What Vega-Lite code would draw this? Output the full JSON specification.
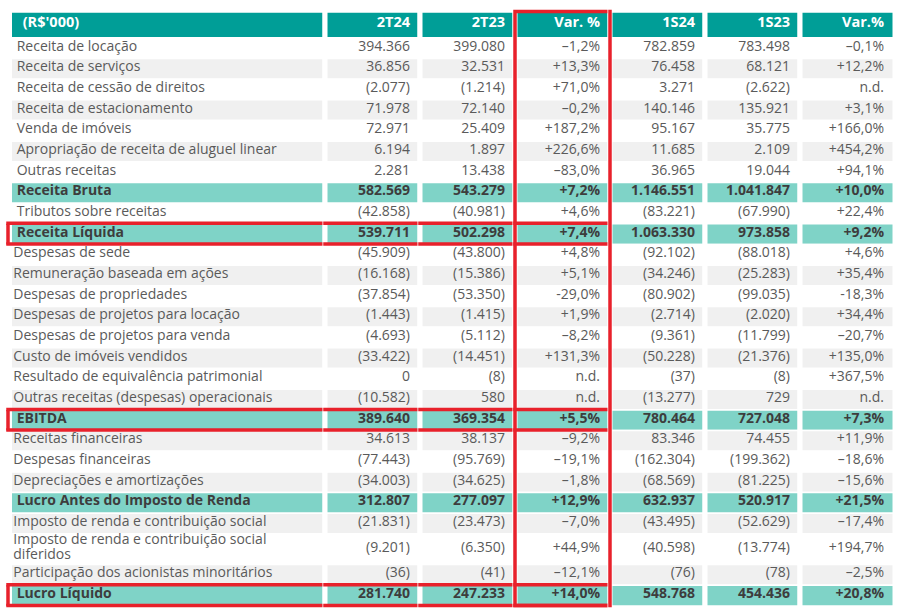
{
  "$schema": "https://vega.github.io/schema/vega-lite/v6.json",
  "autosize": {"type": "pad"},
  "padding": {"left": 4, "top": 0, "right": 0, "bottom": 0},
  "background": "white",
  "spacing": 0,
  "bounds": "flush",
  "config": {"view": {"stroke": null}, "text": {"font": "Open Sans", "fontSize": 14, "dy": -1}},
  "data": {"values": [
    {"i": 0, "rotulo": "(R$'000)", "t2T24": "2T24", "t2T23": "2T23", "var2T": "Var. %", "t1S24": "1S24", "t1S23": "1S23", "var1S": "Var.%", "tipo": "cabecalho", "destaque": false},
    {"i": 1, "rotulo": "Receita de locação", "t2T24": "394.366", "t2T23": "399.080", "var2T": "–1,2%", "t1S24": "782.859", "t1S23": "783.498", "var1S": "–0,1%", "tipo": "linha", "destaque": false},
    {"i": 2, "rotulo": "Receita de serviços", "t2T24": "36.856", "t2T23": "32.531", "var2T": "+13,3%", "t1S24": "76.458", "t1S23": "68.121", "var1S": "+12,2%", "tipo": "linha", "destaque": false},
    {"i": 3, "rotulo": "Receita de cessão de direitos", "t2T24": "(2.077)", "t2T23": "(1.214)", "var2T": "+71,0%", "t1S24": "3.271", "t1S23": "(2.622)", "var1S": "n.d.", "tipo": "linha", "destaque": false},
    {"i": 4, "rotulo": "Receita de estacionamento", "t2T24": "71.978", "t2T23": "72.140", "var2T": "–0,2%", "t1S24": "140.146", "t1S23": "135.921", "var1S": "+3,1%", "tipo": "linha", "destaque": false},
    {"i": 5, "rotulo": "Venda de imóveis", "t2T24": "72.971", "t2T23": "25.409", "var2T": "+187,2%", "t1S24": "95.167", "t1S23": "35.775", "var1S": "+166,0%", "tipo": "linha", "destaque": false},
    {"i": 6, "rotulo": "Apropriação de receita de aluguel linear", "t2T24": "6.194", "t2T23": "1.897", "var2T": "+226,6%", "t1S24": "11.685", "t1S23": "2.109", "var1S": "+454,2%", "tipo": "linha", "destaque": false},
    {"i": 7, "rotulo": "Outras receitas", "t2T24": "2.281", "t2T23": "13.438", "var2T": "–83,0%", "t1S24": "36.965", "t1S23": "19.044", "var1S": "+94,1%", "tipo": "linha", "destaque": false},
    {"i": 8, "rotulo": "Receita Bruta", "t2T24": "582.569", "t2T23": "543.279", "var2T": "+7,2%", "t1S24": "1.146.551", "t1S23": "1.041.847", "var1S": "+10,0%", "tipo": "total", "destaque": false},
    {"i": 9, "rotulo": "Tributos sobre receitas", "t2T24": "(42.858)", "t2T23": "(40.981)", "var2T": "+4,6%", "t1S24": "(83.221)", "t1S23": "(67.990)", "var1S": "+22,4%", "tipo": "linha", "destaque": false},
    {"i": 10, "rotulo": "Receita Líquida", "t2T24": "539.711", "t2T23": "502.298", "var2T": "+7,4%", "t1S24": "1.063.330", "t1S23": "973.858", "var1S": "+9,2%", "tipo": "total", "destaque": true},
    {"i": 11, "rotulo": "Despesas de sede", "t2T24": "(45.909)", "t2T23": "(43.800)", "var2T": "+4,8%", "t1S24": "(92.102)", "t1S23": "(88.018)", "var1S": "+4,6%", "tipo": "linha", "destaque": false},
    {"i": 12, "rotulo": "Remuneração baseada em ações", "t2T24": "(16.168)", "t2T23": "(15.386)", "var2T": "+5,1%", "t1S24": "(34.246)", "t1S23": "(25.283)", "var1S": "+35,4%", "tipo": "linha", "destaque": false},
    {"i": 13, "rotulo": "Despesas de propriedades", "t2T24": "(37.854)", "t2T23": "(53.350)", "var2T": "-29,0%", "t1S24": "(80.902)", "t1S23": "(99.035)", "var1S": "-18,3%", "tipo": "linha", "destaque": false},
    {"i": 14, "rotulo": "Despesas de projetos para locação", "t2T24": "(1.443)", "t2T23": "(1.415)", "var2T": "+1,9%", "t1S24": "(2.714)", "t1S23": "(2.020)", "var1S": "+34,4%", "tipo": "linha", "destaque": false},
    {"i": 15, "rotulo": "Despesas de projetos para venda", "t2T24": "(4.693)", "t2T23": "(5.112)", "var2T": "–8,2%", "t1S24": "(9.361)", "t1S23": "(11.799)", "var1S": "–20,7%", "tipo": "linha", "destaque": false},
    {"i": 16, "rotulo": "Custo de imóveis vendidos", "t2T24": "(33.422)", "t2T23": "(14.451)", "var2T": "+131,3%", "t1S24": "(50.228)", "t1S23": "(21.376)", "var1S": "+135,0%", "tipo": "linha", "destaque": false},
    {"i": 17, "rotulo": "Resultado de equivalência patrimonial", "t2T24": "0", "t2T23": "(8)", "var2T": "n.d.", "t1S24": "(37)", "t1S23": "(8)", "var1S": "+367,5%", "tipo": "linha", "destaque": false},
    {"i": 18, "rotulo": "Outras receitas (despesas) operacionais", "t2T24": "(10.582)", "t2T23": "580", "var2T": "n.d.", "t1S24": "(13.277)", "t1S23": "729", "var1S": "n.d.", "tipo": "linha", "destaque": false},
    {"i": 19, "rotulo": "EBITDA", "t2T24": "389.640", "t2T23": "369.354", "var2T": "+5,5%", "t1S24": "780.464", "t1S23": "727.048", "var1S": "+7,3%", "tipo": "total", "destaque": true},
    {"i": 20, "rotulo": "Receitas financeiras", "t2T24": "34.613", "t2T23": "38.137", "var2T": "–9,2%", "t1S24": "83.346", "t1S23": "74.455", "var1S": "+11,9%", "tipo": "linha", "destaque": false},
    {"i": 21, "rotulo": "Despesas financeiras", "t2T24": "(77.443)", "t2T23": "(95.769)", "var2T": "–19,1%", "t1S24": "(162.304)", "t1S23": "(199.362)", "var1S": "–18,6%", "tipo": "linha", "destaque": false},
    {"i": 22, "rotulo": "Depreciações e amortizações", "t2T24": "(34.003)", "t2T23": "(34.625)", "var2T": "–1,8%", "t1S24": "(68.569)", "t1S23": "(81.225)", "var1S": "–15,6%", "tipo": "linha", "destaque": false},
    {"i": 23, "rotulo": "Lucro Antes do Imposto de Renda", "t2T24": "312.807", "t2T23": "277.097", "var2T": "+12,9%", "t1S24": "632.937", "t1S23": "520.917", "var1S": "+21,5%", "tipo": "total", "destaque": false},
    {"i": 24, "rotulo": "Imposto de renda e contribuição social", "t2T24": "(21.831)", "t2T23": "(23.473)", "var2T": "–7,0%", "t1S24": "(43.495)", "t1S23": "(52.629)", "var1S": "–17,4%", "tipo": "linha", "destaque": false},
    {"i": 25, "rotulo": ["Imposto de renda e contribuição social", "diferidos"], "t2T24": "(9.201)", "t2T23": "(6.350)", "var2T": "+44,9%", "t1S24": "(40.598)", "t1S23": "(13.774)", "var1S": "+194,7%", "tipo": "linha", "destaque": false},
    {"i": 26, "rotulo": "Participação dos acionistas minoritários", "t2T24": "(36)", "t2T23": "(41)", "var2T": "–12,1%", "t1S24": "(76)", "t1S23": "(78)", "var1S": "–2,5%", "tipo": "linha", "destaque": false},
    {"i": 27, "rotulo": "Lucro Líquido", "t2T24": "281.740", "t2T23": "247.233", "var2T": "+14,0%", "t1S24": "548.768", "t1S23": "454.436", "var1S": "+20,8%", "tipo": "total", "destaque": true}
  ]},
  "hconcat": [
    {
      "width": 317, "height": 609,
      "layer": [
        {"mark": {"type": "rect", "stroke": "white", "strokeWidth": 1.5, "binSpacing": 0},
         "encoding": {"y": {"field": "i", "type": "quantitative", "bin": {"step": 1, "extent": [0, 28]}, "scale": {"domain": [0, 1, 25, 26, 28], "range": [7.5, 33.3, 529.4, 560, 601.6], "zero": false, "nice": false}, "axis": null},
           "fill": {"condition": [{"test": "datum.tipo == 'cabecalho'", "value": "#009e97"}, {"test": "datum.tipo == 'total'", "value": "#7fd3c7"}, {"test": "datum.i % 2 == 0", "value": "#f0f0f0"}], "value": "#ffffff"}}},
        {"data": {"values": [{}]}, "mark": {"type": "rule", "stroke": "white", "strokeWidth": 8}, "encoding": {"x": {"value": 0}, "y": {"value": 0}, "y2": {"value": "height"}}},
        {"data": {"values": [{}]}, "mark": {"type": "rule", "stroke": "white", "strokeWidth": 5}, "encoding": {"x": {"value": "width"}, "y": {"value": 0}, "y2": {"value": "height"}}},
        {"transform": [{"filter": "datum.tipo == 'cabecalho'"}], "mark": {"type": "text", "align": "left", "baseline": "middle", "dx": 14.7, "fontWeight": "bold", "fontSize": 14.5, "fill": "white"},
         "encoding": {"x": {"value": 0}, "y": {"field": "i", "type": "quantitative", "bin": {"step": 1, "extent": [0, 28]}, "scale": {"domain": [0, 1, 25, 26, 28], "range": [7.5, 33.3, 529.4, 560, 601.6], "zero": false, "nice": false}, "axis": null}, "text": {"field": "rotulo", "type": "nominal"}}},
        {"transform": [{"filter": "datum.tipo == 'total'"}], "mark": {"type": "text", "align": "left", "baseline": "middle", "dx": 8.7, "fontWeight": "bold", "fill": "#3d3d3d"},
         "encoding": {"x": {"value": 0}, "y": {"field": "i", "type": "quantitative", "bin": {"step": 1, "extent": [0, 28]}, "scale": {"domain": [0, 1, 25, 26, 28], "range": [7.5, 33.3, 529.4, 560, 601.6], "zero": false, "nice": false}, "axis": null}, "text": {"field": "rotulo", "type": "nominal"}}},
        {"transform": [{"filter": "datum.tipo == 'linha' && datum.i <= 10"}], "mark": {"type": "text", "align": "left", "baseline": "middle", "dx": 8.7, "fill": "#5a5a5a"},
         "encoding": {"x": {"value": 0}, "y": {"field": "i", "type": "quantitative", "bin": {"step": 1, "extent": [0, 28]}, "scale": {"domain": [0, 1, 25, 26, 28], "range": [7.5, 33.3, 529.4, 560, 601.6], "zero": false, "nice": false}, "axis": null}, "text": {"field": "rotulo", "type": "nominal"}}},
        {"transform": [{"filter": "datum.tipo == 'linha' && datum.i > 10 && !isArray(datum.rotulo)"}], "mark": {"type": "text", "align": "left", "baseline": "middle", "dx": 5.3, "fill": "#5a5a5a"},
         "encoding": {"x": {"value": 0}, "y": {"field": "i", "type": "quantitative", "bin": {"step": 1, "extent": [0, 28]}, "scale": {"domain": [0, 1, 25, 26, 28], "range": [7.5, 33.3, 529.4, 560, 601.6], "zero": false, "nice": false}, "axis": null}, "text": {"field": "rotulo", "type": "nominal"}}},
        {"transform": [{"filter": "isArray(datum.rotulo)"}], "mark": {"type": "text", "align": "left", "baseline": "middle", "dx": 5.3, "dy": -8.5, "lineHeight": 15, "fill": "#5a5a5a"},
         "encoding": {"x": {"value": 0}, "y": {"field": "i", "type": "quantitative", "bin": {"step": 1, "extent": [0, 28]}, "scale": {"domain": [0, 1, 25, 26, 28], "range": [7.5, 33.3, 529.4, 560, 601.6], "zero": false, "nice": false}, "axis": null}, "text": {"field": "rotulo", "type": "nominal"}}},
        {"transform": [{"filter": "datum.destaque"}], "mark": {"type": "rule", "stroke": "#e8212b", "strokeWidth": 3.5, "strokeCap": "square"},
         "encoding": {"x": {"value": 0}, "x2": {"value": "width"}, "y": {"field": "i", "type": "quantitative", "bin": {"step": 1, "extent": [0, 28]}, "bandPosition": 0, "scale": {"domain": [0, 1, 25, 26, 28], "range": [7.5, 33.3, 529.4, 560, 601.6], "zero": false, "nice": false}, "axis": null}}},
        {"transform": [{"filter": "datum.destaque"}], "mark": {"type": "rule", "stroke": "#e8212b", "strokeWidth": 3.5, "strokeCap": "square"},
         "encoding": {"x": {"value": 0}, "x2": {"value": "width"}, "y": {"field": "i", "type": "quantitative", "bin": {"step": 1, "extent": [0, 28]}, "bandPosition": 1, "scale": {"domain": [0, 1, 25, 26, 28], "range": [7.5, 33.3, 529.4, 560, 601.6], "zero": false, "nice": false}, "axis": null}}},
        {"transform": [{"filter": "datum.destaque"}], "mark": {"type": "rect", "fillOpacity": 0, "stroke": "#e8212b", "strokeWidth": 3.5, "binSpacing": 0},
         "encoding": {"x": {"value": 0}, "x2": {"value": 0}, "y": {"field": "i", "type": "quantitative", "bin": {"step": 1, "extent": [0, 28]}, "scale": {"domain": [0, 1, 25, 26, 28], "range": [7.5, 33.3, 529.4, 560, 601.6], "zero": false, "nice": false}, "axis": null}}}
      ]
    },
    {
      "width": 95, "height": 609,
      "layer": [
        {"mark": {"type": "rect", "stroke": "white", "strokeWidth": 1.5, "binSpacing": 0},
         "encoding": {"y": {"field": "i", "type": "quantitative", "bin": {"step": 1, "extent": [0, 28]}, "scale": {"domain": [0, 1, 25, 26, 28], "range": [7.5, 33.3, 529.4, 560, 601.6], "zero": false, "nice": false}, "axis": null},
           "fill": {"condition": [{"test": "datum.tipo == 'cabecalho'", "value": "#009e97"}, {"test": "datum.tipo == 'total'", "value": "#7fd3c7"}, {"test": "datum.i % 2 == 0", "value": "#f0f0f0"}], "value": "#ffffff"}}},
        {"data": {"values": [{}]}, "mark": {"type": "rule", "stroke": "white", "strokeWidth": 5}, "encoding": {"x": {"value": 0}, "y": {"value": 0}, "y2": {"value": "height"}}},
        {"data": {"values": [{}]}, "mark": {"type": "rule", "stroke": "white", "strokeWidth": 5}, "encoding": {"x": {"value": "width"}, "y": {"value": 0}, "y2": {"value": "height"}}},
        {"transform": [{"filter": "datum.tipo == 'cabecalho'"}], "mark": {"type": "text", "align": "right", "baseline": "middle", "dx": -10, "fontWeight": "bold", "fontSize": 14.5, "fill": "white"},
         "encoding": {"x": {"value": "width"}, "y": {"field": "i", "type": "quantitative", "bin": {"step": 1, "extent": [0, 28]}, "scale": {"domain": [0, 1, 25, 26, 28], "range": [7.5, 33.3, 529.4, 560, 601.6], "zero": false, "nice": false}, "axis": null}, "text": {"field": "t2T24", "type": "nominal"}}},
        {"transform": [{"filter": "datum.tipo == 'total'"}], "mark": {"type": "text", "align": "right", "baseline": "middle", "dx": -10, "fontWeight": "bold", "fill": "#3d3d3d"},
         "encoding": {"x": {"value": "width"}, "y": {"field": "i", "type": "quantitative", "bin": {"step": 1, "extent": [0, 28]}, "scale": {"domain": [0, 1, 25, 26, 28], "range": [7.5, 33.3, 529.4, 560, 601.6], "zero": false, "nice": false}, "axis": null}, "text": {"field": "t2T24", "type": "nominal"}}},
        {"transform": [{"filter": "datum.tipo == 'linha'"}], "mark": {"type": "text", "align": "right", "baseline": "middle", "dx": -10, "fill": "#5a5a5a"},
         "encoding": {"x": {"value": "width"}, "y": {"field": "i", "type": "quantitative", "bin": {"step": 1, "extent": [0, 28]}, "scale": {"domain": [0, 1, 25, 26, 28], "range": [7.5, 33.3, 529.4, 560, 601.6], "zero": false, "nice": false}, "axis": null}, "text": {"field": "t2T24", "type": "nominal"}}},
        {"transform": [{"filter": "datum.destaque"}], "mark": {"type": "rule", "stroke": "#e8212b", "strokeWidth": 3.5, "strokeCap": "square"},
         "encoding": {"x": {"value": 0}, "x2": {"value": "width"}, "y": {"field": "i", "type": "quantitative", "bin": {"step": 1, "extent": [0, 28]}, "bandPosition": 0, "scale": {"domain": [0, 1, 25, 26, 28], "range": [7.5, 33.3, 529.4, 560, 601.6], "zero": false, "nice": false}, "axis": null}}},
        {"transform": [{"filter": "datum.destaque"}], "mark": {"type": "rule", "stroke": "#e8212b", "strokeWidth": 3.5, "strokeCap": "square"},
         "encoding": {"x": {"value": 0}, "x2": {"value": "width"}, "y": {"field": "i", "type": "quantitative", "bin": {"step": 1, "extent": [0, 28]}, "bandPosition": 1, "scale": {"domain": [0, 1, 25, 26, 28], "range": [7.5, 33.3, 529.4, 560, 601.6], "zero": false, "nice": false}, "axis": null}}}
      ]
    },
    {
      "width": 95, "height": 609,
      "layer": [
        {"mark": {"type": "rect", "stroke": "white", "strokeWidth": 1.5, "binSpacing": 0},
         "encoding": {"y": {"field": "i", "type": "quantitative", "bin": {"step": 1, "extent": [0, 28]}, "scale": {"domain": [0, 1, 25, 26, 28], "range": [7.5, 33.3, 529.4, 560, 601.6], "zero": false, "nice": false}, "axis": null},
           "fill": {"condition": [{"test": "datum.tipo == 'cabecalho'", "value": "#009e97"}, {"test": "datum.tipo == 'total'", "value": "#7fd3c7"}, {"test": "datum.i % 2 == 0", "value": "#f0f0f0"}], "value": "#ffffff"}}},
        {"data": {"values": [{}]}, "mark": {"type": "rule", "stroke": "white", "strokeWidth": 5}, "encoding": {"x": {"value": 0}, "y": {"value": 0}, "y2": {"value": "height"}}},
        {"data": {"values": [{}]}, "mark": {"type": "rule", "stroke": "white", "strokeWidth": 5}, "encoding": {"x": {"value": "width"}, "y": {"value": 0}, "y2": {"value": "height"}}},
        {"transform": [{"filter": "datum.tipo == 'cabecalho'"}], "mark": {"type": "text", "align": "right", "baseline": "middle", "dx": -10, "fontWeight": "bold", "fontSize": 14.5, "fill": "white"},
         "encoding": {"x": {"value": "width"}, "y": {"field": "i", "type": "quantitative", "bin": {"step": 1, "extent": [0, 28]}, "scale": {"domain": [0, 1, 25, 26, 28], "range": [7.5, 33.3, 529.4, 560, 601.6], "zero": false, "nice": false}, "axis": null}, "text": {"field": "t2T23", "type": "nominal"}}},
        {"transform": [{"filter": "datum.tipo == 'total'"}], "mark": {"type": "text", "align": "right", "baseline": "middle", "dx": -10, "fontWeight": "bold", "fill": "#3d3d3d"},
         "encoding": {"x": {"value": "width"}, "y": {"field": "i", "type": "quantitative", "bin": {"step": 1, "extent": [0, 28]}, "scale": {"domain": [0, 1, 25, 26, 28], "range": [7.5, 33.3, 529.4, 560, 601.6], "zero": false, "nice": false}, "axis": null}, "text": {"field": "t2T23", "type": "nominal"}}},
        {"transform": [{"filter": "datum.tipo == 'linha'"}], "mark": {"type": "text", "align": "right", "baseline": "middle", "dx": -10, "fill": "#5a5a5a"},
         "encoding": {"x": {"value": "width"}, "y": {"field": "i", "type": "quantitative", "bin": {"step": 1, "extent": [0, 28]}, "scale": {"domain": [0, 1, 25, 26, 28], "range": [7.5, 33.3, 529.4, 560, 601.6], "zero": false, "nice": false}, "axis": null}, "text": {"field": "t2T23", "type": "nominal"}}},
        {"transform": [{"filter": "datum.destaque"}], "mark": {"type": "rule", "stroke": "#e8212b", "strokeWidth": 3.5, "strokeCap": "square"},
         "encoding": {"x": {"value": 0}, "x2": {"value": "width"}, "y": {"field": "i", "type": "quantitative", "bin": {"step": 1, "extent": [0, 28]}, "bandPosition": 0, "scale": {"domain": [0, 1, 25, 26, 28], "range": [7.5, 33.3, 529.4, 560, 601.6], "zero": false, "nice": false}, "axis": null}}},
        {"transform": [{"filter": "datum.destaque"}], "mark": {"type": "rule", "stroke": "#e8212b", "strokeWidth": 3.5, "strokeCap": "square"},
         "encoding": {"x": {"value": 0}, "x2": {"value": "width"}, "y": {"field": "i", "type": "quantitative", "bin": {"step": 1, "extent": [0, 28]}, "bandPosition": 1, "scale": {"domain": [0, 1, 25, 26, 28], "range": [7.5, 33.3, 529.4, 560, 601.6], "zero": false, "nice": false}, "axis": null}}}
      ]
    },
    {
      "width": 95, "height": 609,
      "layer": [
        {"mark": {"type": "rect", "stroke": "white", "strokeWidth": 1.5, "binSpacing": 0},
         "encoding": {"y": {"field": "i", "type": "quantitative", "bin": {"step": 1, "extent": [0, 28]}, "scale": {"domain": [0, 1, 25, 26, 28], "range": [7.5, 33.3, 529.4, 560, 601.6], "zero": false, "nice": false}, "axis": null},
           "fill": {"condition": [{"test": "datum.tipo == 'cabecalho'", "value": "#009e97"}, {"test": "datum.tipo == 'total'", "value": "#7fd3c7"}, {"test": "datum.i % 2 == 0", "value": "#f0f0f0"}], "value": "#ffffff"}}},
        {"data": {"values": [{}]}, "mark": {"type": "rule", "stroke": "white", "strokeWidth": 5}, "encoding": {"x": {"value": 0}, "y": {"value": 0}, "y2": {"value": "height"}}},
        {"data": {"values": [{}]}, "mark": {"type": "rule", "stroke": "white", "strokeWidth": 5}, "encoding": {"x": {"value": "width"}, "y": {"value": 0}, "y2": {"value": "height"}}},
        {"transform": [{"filter": "datum.tipo == 'cabecalho'"}], "mark": {"type": "text", "align": "right", "baseline": "middle", "dx": -10, "fontWeight": "bold", "fontSize": 14.5, "fill": "white"},
         "encoding": {"x": {"value": "width"}, "y": {"field": "i", "type": "quantitative", "bin": {"step": 1, "extent": [0, 28]}, "scale": {"domain": [0, 1, 25, 26, 28], "range": [7.5, 33.3, 529.4, 560, 601.6], "zero": false, "nice": false}, "axis": null}, "text": {"field": "var2T", "type": "nominal"}}},
        {"transform": [{"filter": "datum.tipo == 'total'"}], "mark": {"type": "text", "align": "right", "baseline": "middle", "dx": -10, "fontWeight": "bold", "fill": "#3d3d3d"},
         "encoding": {"x": {"value": "width"}, "y": {"field": "i", "type": "quantitative", "bin": {"step": 1, "extent": [0, 28]}, "scale": {"domain": [0, 1, 25, 26, 28], "range": [7.5, 33.3, 529.4, 560, 601.6], "zero": false, "nice": false}, "axis": null}, "text": {"field": "var2T", "type": "nominal"}}},
        {"transform": [{"filter": "datum.tipo == 'linha'"}], "mark": {"type": "text", "align": "right", "baseline": "middle", "dx": -10, "fill": "#5a5a5a"},
         "encoding": {"x": {"value": "width"}, "y": {"field": "i", "type": "quantitative", "bin": {"step": 1, "extent": [0, 28]}, "scale": {"domain": [0, 1, 25, 26, 28], "range": [7.5, 33.3, 529.4, 560, 601.6], "zero": false, "nice": false}, "axis": null}, "text": {"field": "var2T", "type": "nominal"}}},
        {"transform": [{"filter": "datum.destaque"}], "mark": {"type": "rule", "stroke": "#e8212b", "strokeWidth": 3.5, "strokeCap": "square"},
         "encoding": {"x": {"value": 0}, "x2": {"value": "width"}, "y": {"field": "i", "type": "quantitative", "bin": {"step": 1, "extent": [0, 28]}, "bandPosition": 0, "scale": {"domain": [0, 1, 25, 26, 28], "range": [7.5, 33.3, 529.4, 560, 601.6], "zero": false, "nice": false}, "axis": null}}},
        {"transform": [{"filter": "datum.destaque"}], "mark": {"type": "rule", "stroke": "#e8212b", "strokeWidth": 3.5, "strokeCap": "square"},
         "encoding": {"x": {"value": 0}, "x2": {"value": "width"}, "y": {"field": "i", "type": "quantitative", "bin": {"step": 1, "extent": [0, 28]}, "bandPosition": 1, "scale": {"domain": [0, 1, 25, 26, 28], "range": [7.5, 33.3, 529.4, 560, 601.6], "zero": false, "nice": false}, "axis": null}}},
        {"data": {"values": [{}]}, "mark": {"type": "rect", "fillOpacity": 0, "stroke": "#e8212b", "strokeWidth": 3.5},
         "encoding": {"y": {"datum": 0, "type": "quantitative"}, "y2": {"datum": 28}}}
      ]
    },
    {
      "width": 95, "height": 609,
      "layer": [
        {"mark": {"type": "rect", "stroke": "white", "strokeWidth": 1.5, "binSpacing": 0},
         "encoding": {"y": {"field": "i", "type": "quantitative", "bin": {"step": 1, "extent": [0, 28]}, "scale": {"domain": [0, 1, 25, 26, 28], "range": [7.5, 33.3, 529.4, 560, 601.6], "zero": false, "nice": false}, "axis": null},
           "fill": {"condition": [{"test": "datum.tipo == 'cabecalho'", "value": "#009e97"}, {"test": "datum.tipo == 'total'", "value": "#7fd3c7"}, {"test": "datum.i % 2 == 0", "value": "#f0f0f0"}], "value": "#ffffff"}}},
        {"data": {"values": [{}]}, "mark": {"type": "rule", "stroke": "white", "strokeWidth": 5}, "encoding": {"x": {"value": 0}, "y": {"value": 0}, "y2": {"value": "height"}}},
        {"data": {"values": [{}]}, "mark": {"type": "rule", "stroke": "white", "strokeWidth": 5}, "encoding": {"x": {"value": "width"}, "y": {"value": 0}, "y2": {"value": "height"}}},
        {"transform": [{"filter": "datum.tipo == 'cabecalho'"}], "mark": {"type": "text", "align": "right", "baseline": "middle", "dx": -10, "fontWeight": "bold", "fontSize": 14.5, "fill": "white"},
         "encoding": {"x": {"value": "width"}, "y": {"field": "i", "type": "quantitative", "bin": {"step": 1, "extent": [0, 28]}, "scale": {"domain": [0, 1, 25, 26, 28], "range": [7.5, 33.3, 529.4, 560, 601.6], "zero": false, "nice": false}, "axis": null}, "text": {"field": "t1S24", "type": "nominal"}}},
        {"transform": [{"filter": "datum.tipo == 'total'"}], "mark": {"type": "text", "align": "right", "baseline": "middle", "dx": -10, "fontWeight": "bold", "fill": "#3d3d3d"},
         "encoding": {"x": {"value": "width"}, "y": {"field": "i", "type": "quantitative", "bin": {"step": 1, "extent": [0, 28]}, "scale": {"domain": [0, 1, 25, 26, 28], "range": [7.5, 33.3, 529.4, 560, 601.6], "zero": false, "nice": false}, "axis": null}, "text": {"field": "t1S24", "type": "nominal"}}},
        {"transform": [{"filter": "datum.tipo == 'linha'"}], "mark": {"type": "text", "align": "right", "baseline": "middle", "dx": -10, "fill": "#5a5a5a"},
         "encoding": {"x": {"value": "width"}, "y": {"field": "i", "type": "quantitative", "bin": {"step": 1, "extent": [0, 28]}, "scale": {"domain": [0, 1, 25, 26, 28], "range": [7.5, 33.3, 529.4, 560, 601.6], "zero": false, "nice": false}, "axis": null}, "text": {"field": "t1S24", "type": "nominal"}}},
        {"data": {"values": [{}]}, "mark": {"type": "rule", "stroke": "#e8212b", "strokeWidth": 3.5, "strokeCap": "square"},
         "encoding": {"x": {"value": 0}, "y": {"datum": 0, "type": "quantitative"}, "y2": {"datum": 28}}}
      ]
    },
    {
      "width": 95, "height": 609,
      "layer": [
        {"mark": {"type": "rect", "stroke": "white", "strokeWidth": 1.5, "binSpacing": 0},
         "encoding": {"y": {"field": "i", "type": "quantitative", "bin": {"step": 1, "extent": [0, 28]}, "scale": {"domain": [0, 1, 25, 26, 28], "range": [7.5, 33.3, 529.4, 560, 601.6], "zero": false, "nice": false}, "axis": null},
           "fill": {"condition": [{"test": "datum.tipo == 'cabecalho'", "value": "#009e97"}, {"test": "datum.tipo == 'total'", "value": "#7fd3c7"}, {"test": "datum.i % 2 == 0", "value": "#f0f0f0"}], "value": "#ffffff"}}},
        {"data": {"values": [{}]}, "mark": {"type": "rule", "stroke": "white", "strokeWidth": 5}, "encoding": {"x": {"value": 0}, "y": {"value": 0}, "y2": {"value": "height"}}},
        {"data": {"values": [{}]}, "mark": {"type": "rule", "stroke": "white", "strokeWidth": 5}, "encoding": {"x": {"value": "width"}, "y": {"value": 0}, "y2": {"value": "height"}}},
        {"transform": [{"filter": "datum.tipo == 'cabecalho'"}], "mark": {"type": "text", "align": "right", "baseline": "middle", "dx": -10, "fontWeight": "bold", "fontSize": 14.5, "fill": "white"},
         "encoding": {"x": {"value": "width"}, "y": {"field": "i", "type": "quantitative", "bin": {"step": 1, "extent": [0, 28]}, "scale": {"domain": [0, 1, 25, 26, 28], "range": [7.5, 33.3, 529.4, 560, 601.6], "zero": false, "nice": false}, "axis": null}, "text": {"field": "t1S23", "type": "nominal"}}},
        {"transform": [{"filter": "datum.tipo == 'total'"}], "mark": {"type": "text", "align": "right", "baseline": "middle", "dx": -10, "fontWeight": "bold", "fill": "#3d3d3d"},
         "encoding": {"x": {"value": "width"}, "y": {"field": "i", "type": "quantitative", "bin": {"step": 1, "extent": [0, 28]}, "scale": {"domain": [0, 1, 25, 26, 28], "range": [7.5, 33.3, 529.4, 560, 601.6], "zero": false, "nice": false}, "axis": null}, "text": {"field": "t1S23", "type": "nominal"}}},
        {"transform": [{"filter": "datum.tipo == 'linha'"}], "mark": {"type": "text", "align": "right", "baseline": "middle", "dx": -10, "fill": "#5a5a5a"},
         "encoding": {"x": {"value": "width"}, "y": {"field": "i", "type": "quantitative", "bin": {"step": 1, "extent": [0, 28]}, "scale": {"domain": [0, 1, 25, 26, 28], "range": [7.5, 33.3, 529.4, 560, 601.6], "zero": false, "nice": false}, "axis": null}, "text": {"field": "t1S23", "type": "nominal"}}}
      ]
    },
    {
      "width": 95, "height": 609,
      "layer": [
        {"mark": {"type": "rect", "stroke": "white", "strokeWidth": 1.5, "binSpacing": 0},
         "encoding": {"y": {"field": "i", "type": "quantitative", "bin": {"step": 1, "extent": [0, 28]}, "scale": {"domain": [0, 1, 25, 26, 28], "range": [7.5, 33.3, 529.4, 560, 601.6], "zero": false, "nice": false}, "axis": null},
           "fill": {"condition": [{"test": "datum.tipo == 'cabecalho'", "value": "#009e97"}, {"test": "datum.tipo == 'total'", "value": "#7fd3c7"}, {"test": "datum.i % 2 == 0", "value": "#f0f0f0"}], "value": "#ffffff"}}},
        {"data": {"values": [{}]}, "mark": {"type": "rule", "stroke": "white", "strokeWidth": 5}, "encoding": {"x": {"value": 0}, "y": {"value": 0}, "y2": {"value": "height"}}},
        {"data": {"values": [{}]}, "mark": {"type": "rule", "stroke": "white", "strokeWidth": 5}, "encoding": {"x": {"value": "width"}, "y": {"value": 0}, "y2": {"value": "height"}}},
        {"transform": [{"filter": "datum.tipo == 'cabecalho'"}], "mark": {"type": "text", "align": "right", "baseline": "middle", "dx": -11, "fontWeight": "bold", "fontSize": 14.5, "fill": "white"},
         "encoding": {"x": {"value": "width"}, "y": {"field": "i", "type": "quantitative", "bin": {"step": 1, "extent": [0, 28]}, "scale": {"domain": [0, 1, 25, 26, 28], "range": [7.5, 33.3, 529.4, 560, 601.6], "zero": false, "nice": false}, "axis": null}, "text": {"field": "var1S", "type": "nominal"}}},
        {"transform": [{"filter": "datum.tipo == 'total'"}], "mark": {"type": "text", "align": "right", "baseline": "middle", "dx": -11, "fontWeight": "bold", "fill": "#3d3d3d"},
         "encoding": {"x": {"value": "width"}, "y": {"field": "i", "type": "quantitative", "bin": {"step": 1, "extent": [0, 28]}, "scale": {"domain": [0, 1, 25, 26, 28], "range": [7.5, 33.3, 529.4, 560, 601.6], "zero": false, "nice": false}, "axis": null}, "text": {"field": "var1S", "type": "nominal"}}},
        {"transform": [{"filter": "datum.tipo == 'linha'"}], "mark": {"type": "text", "align": "right", "baseline": "middle", "dx": -11, "fill": "#5a5a5a"},
         "encoding": {"x": {"value": "width"}, "y": {"field": "i", "type": "quantitative", "bin": {"step": 1, "extent": [0, 28]}, "scale": {"domain": [0, 1, 25, 26, 28], "range": [7.5, 33.3, 529.4, 560, 601.6], "zero": false, "nice": false}, "axis": null}, "text": {"field": "var1S", "type": "nominal"}}}
      ]
    }
  ]
}
